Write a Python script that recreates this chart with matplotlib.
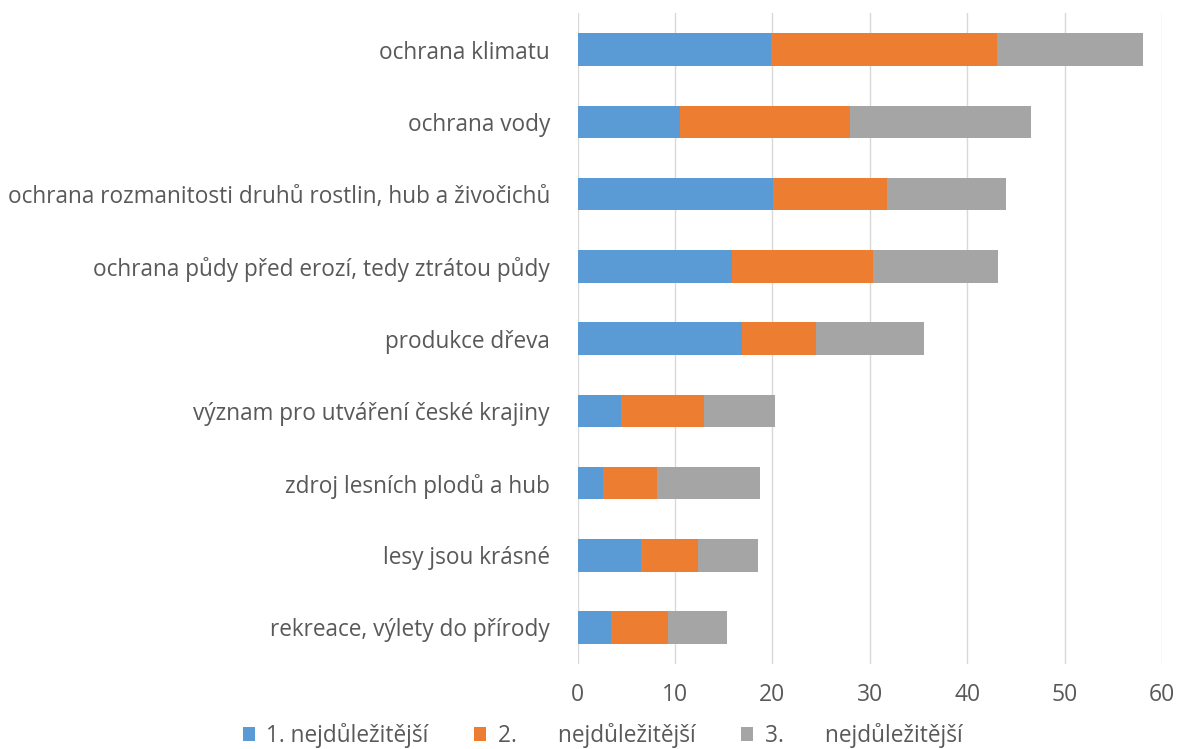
import matplotlib.pyplot as plt
import numpy as np

categories = [
    'ochrana klimatu',
    'ochrana vody',
    'ochrana rozmanitosti druhů rostlin, hub a živočichů',
    'ochrana půdy před erozí, tedy ztrátou půdy',
    'produkce dřeva',
    'význam pro utváření české krajiny',
    'zdroj lesních plodů a hub',
    'lesy jsou krásné',
    'rekreace, výlety do přírody',
]
first = [19.8, 10.5, 20.1, 15.8, 16.9, 4.4, 2.6, 6.5, 3.4]
second = [23.3, 17.5, 11.7, 14.5, 7.6, 8.6, 5.5, 5.9, 5.9]
third = [14.9, 18.5, 12.2, 12.9, 11.1, 7.3, 10.6, 6.1, 6.0]
series_labels = ['1. nejdůležitější', '2.       nejdůležitější', '3.       nejdůležitější']
colors = ['#5b9bd5', '#ed7d31', '#a5a5a5']

plt.rcParams['font.family'] = ['Open Sans', 'DejaVu Sans']

fig = plt.figure(figsize=(11.79, 7.49), dpi=100)
ax = fig.add_axes([0.490, 0.114, 0.4956, 0.868])

y = np.arange(len(categories))
left = np.zeros(len(categories))
for vals, lab, col in zip([first, second, third], series_labels, colors):
    ax.barh(y, vals, left=left, height=0.45, color=col, label=lab, zorder=3)
    left += np.array(vals)

ax.set_yticks(y)
ax.set_yticklabels(categories, fontsize=16.3, color='#595959')
ax.set_ylim(len(categories) - 0.5, -0.5)
ax.set_xlim(0, 60)
ax.set_xticks(range(0, 61, 10))
ax.tick_params(axis='x', labelsize=16.5, labelcolor='#595959', length=0, pad=14)
ax.tick_params(axis='y', length=0, pad=20)
ax.grid(axis='x', color='#d9d9d9', linewidth=1, zorder=0)
for s in ax.spines.values():
    s.set_visible(False)

fig.legend(loc='lower center', bbox_to_anchor=(0.511, -0.026), ncol=3, frameon=False,
           fontsize=16.3, labelcolor='#595959', handlelength=0.55, handleheight=0.55,
           handletextpad=0.5, columnspacing=2.0)

fig.savefig('out.png', dpi=100)
